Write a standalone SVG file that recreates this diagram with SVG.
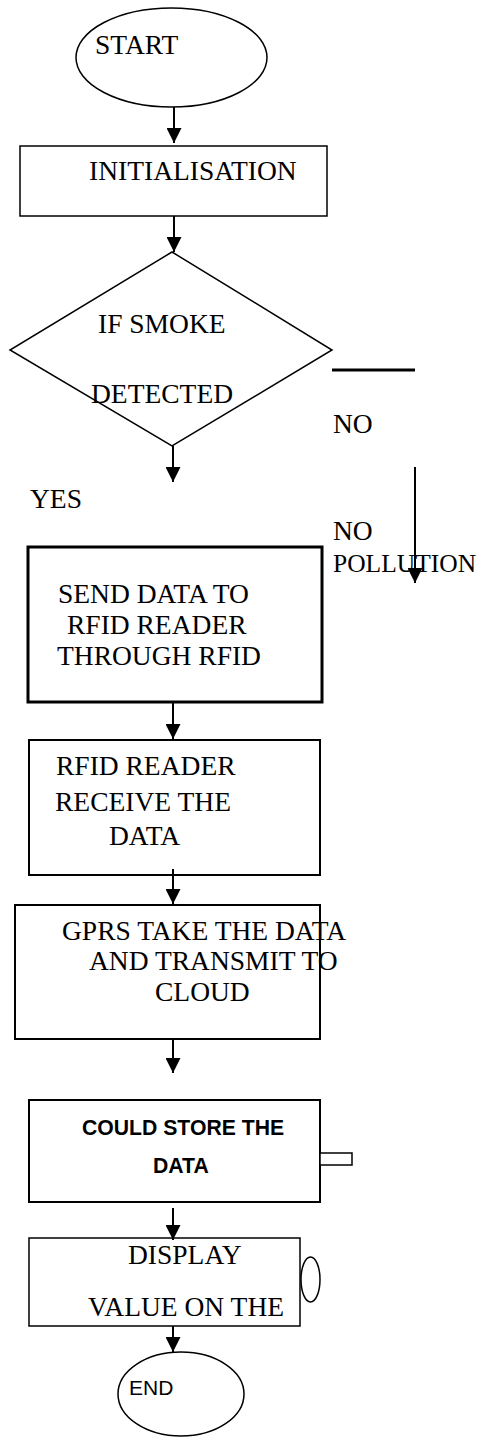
<svg xmlns="http://www.w3.org/2000/svg" width="481" height="1437" viewBox="0 0 481 1437">
<style>
.s{fill:#fff;stroke:#000;stroke-width:1.5}
.b{fill:#fff;stroke:#000;stroke-width:3}
.m{fill:#fff;stroke:#000;stroke-width:2}
.t{font-family:"Liberation Serif",serif;font-size:27.5px;fill:#000}
.c{font-family:"Liberation Sans",sans-serif;font-size:21px;fill:#000}
.cb{font-family:"Liberation Sans",sans-serif;font-size:21.2px;font-weight:bold;fill:#000}
.e{stroke:#000;stroke-width:2;fill:none}
</style>
<defs>
<marker id="ah" markerUnits="userSpaceOnUse" markerWidth="16" markerHeight="15" refX="15" refY="7.5" orient="auto">
<path d="M0,0 L15,7.5 L0,15 Z" fill="#000"/>
</marker>
</defs>
<g id="start"><ellipse class="s" cx="171.5" cy="57.5" rx="95.5" ry="49.5"/><text class="t" x="95" y="54">START</text></g>
<g id="init"><rect class="s" x="20" y="146" width="307" height="70"/><text class="t" x="89" y="180">INITIALISATION</text></g>
<g id="decision"><polygon class="s" points="172,252 332,350 172,446 10,350"/><text class="t" x="98" y="333">IF SMOKE</text><text class="t" x="91" y="403">DETECTED</text></g>
<g id="send"><rect class="b" x="28" y="547" width="294" height="155"/><text class="t" x="58" y="603">SEND DATA TO</text><text class="t" x="67" y="634">RFID READER</text><text class="t" x="57" y="665">THROUGH RFID</text></g>
<g id="receive"><rect class="m" x="29" y="740" width="291" height="135"/><text class="t" x="56" y="775">RFID READER</text><text class="t" x="55" y="811">RECEIVE THE</text><text class="t" x="109" y="845">DATA</text></g>
<g id="gprs"><rect class="m" x="15" y="905" width="305" height="134"/><text class="t" x="62" y="940">GPRS TAKE THE DATA</text><text class="t" x="89" y="970">AND TRANSMIT TO</text><text class="t" x="155" y="1001">CLOUD</text></g>
<g id="store"><rect class="m" x="29" y="1100" width="291" height="102"/><rect class="s" x="320" y="1153" width="32" height="12"/><text class="cb" x="82" y="1135">COULD STORE THE</text><text class="cb" x="153" y="1173">DATA</text></g>
<g id="display"><rect class="s" x="29" y="1238" width="271" height="88"/><ellipse class="s" cx="310.5" cy="1279.5" rx="9.5" ry="22.5"/><text class="t" x="128" y="1264">DISPLAY</text><text class="t" x="88" y="1316">VALUE ON THE</text></g>
<g id="end"><ellipse class="s" cx="181" cy="1394" rx="63" ry="42"/><text class="c" x="129" y="1395">END</text></g>
<g id="labels"><text class="t" x="333" y="433">NO</text><text class="t" x="30" y="508">YES</text><text class="t" x="333" y="540">NO</text><text class="t" x="333" y="572" style="font-size:25.5px">POLLUTION</text></g>
<g id="connectors">
<line class="e" x1="174" y1="107" x2="174" y2="143" marker-end="url(#ah)"/>
<line class="e" x1="174" y1="216" x2="174" y2="252" marker-end="url(#ah)"/>
<line class="e" x1="173" y1="446" x2="173" y2="482" marker-end="url(#ah)"/>
<line x1="332" y1="370" x2="415" y2="370" stroke="#000" stroke-width="3"/>
<line class="e" x1="415" y1="467" x2="415" y2="583" marker-end="url(#ah)"/>
<line class="e" x1="173" y1="702" x2="173" y2="739" marker-end="url(#ah)"/>
<line class="e" x1="173" y1="869" x2="173" y2="904" marker-end="url(#ah)"/>
<line class="e" x1="173" y1="1039" x2="173" y2="1073" marker-end="url(#ah)"/>
<line class="e" x1="173" y1="1208" x2="173" y2="1240" marker-end="url(#ah)"/>
<line class="e" x1="173" y1="1326" x2="173" y2="1352" marker-end="url(#ah)"/>
</g>
</svg>
